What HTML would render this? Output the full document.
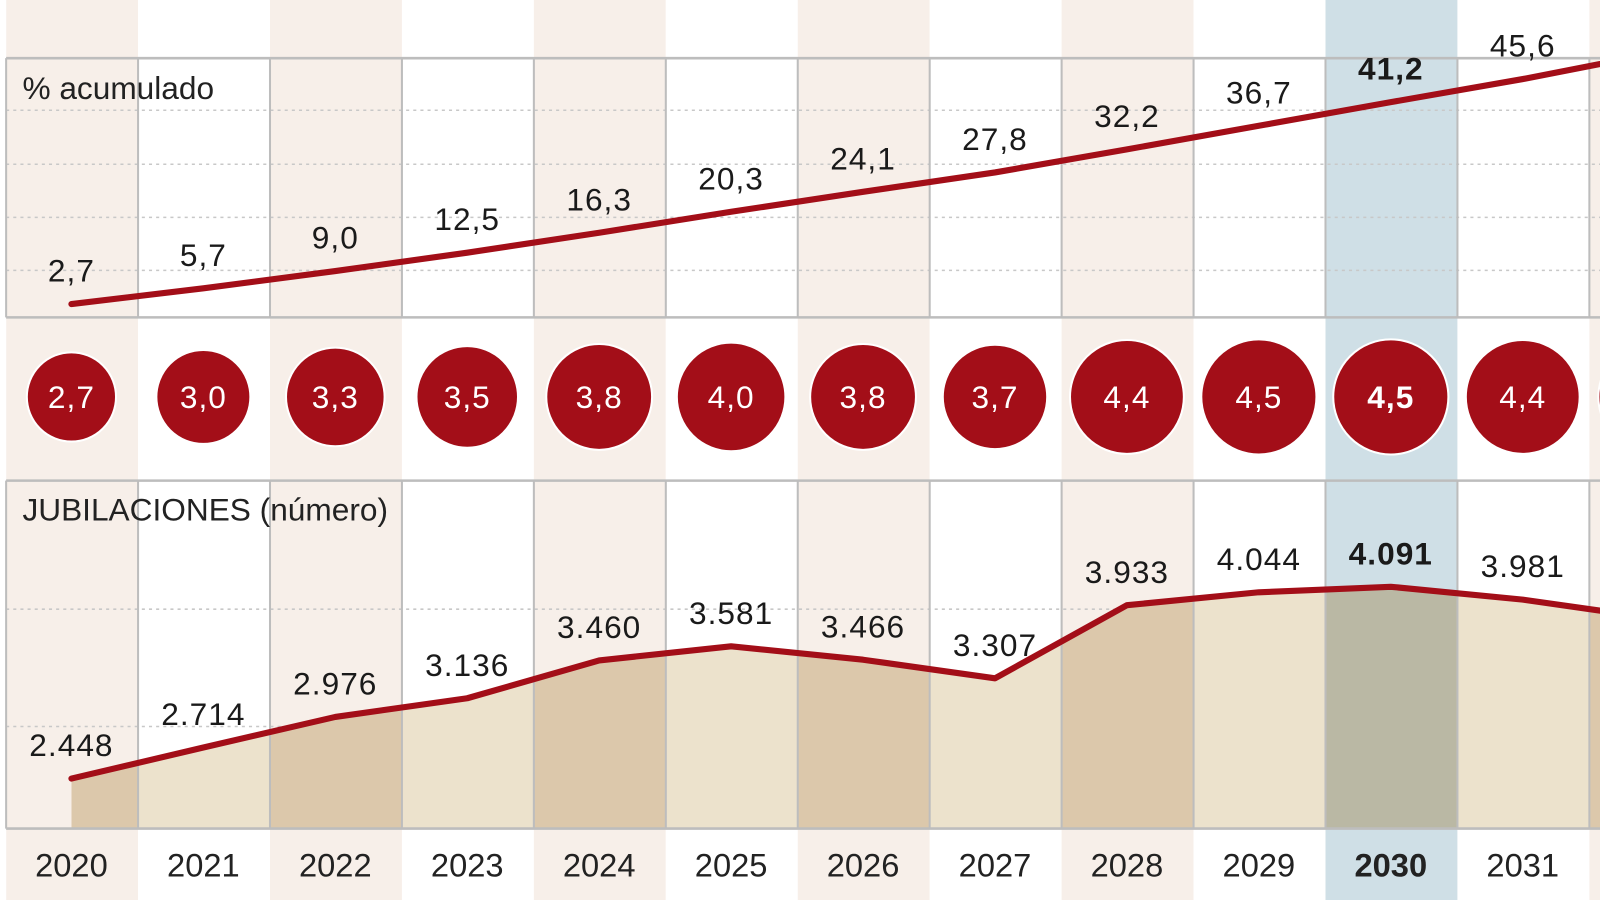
<!DOCTYPE html>
<html><head><meta charset="utf-8">
<style>
html,body{margin:0;padding:0;background:#fff;width:1600px;height:900px;overflow:hidden}
svg{display:block;font-family:"Liberation Sans",sans-serif}
</style></head>
<body>
<svg id="chart" width="1600" height="900" viewBox="0 0 1600 900"><g id="root" transform="scale(1.0204)"></g></svg>
<script>
const years = [2020,2021,2022,2023,2024,2025,2026,2027,2028,2029,2030,2031,2032];
const cumulative = [2.7,5.7,9.0,12.5,16.3,20.3,24.1,27.8,32.2,36.7,41.2,45.6,50.5];
const cumLabels = ["2,7","5,7","9,0","12,5","16,3","20,3","24,1","27,8","32,2","36,7","41,2","45,6",""];
const annual = [2.7,3.0,3.3,3.5,3.8,4.0,3.8,3.7,4.4,4.5,4.5,4.4,4.3];
const annualLabels = ["2,7","3,0","3,3","3,5","3,8","4,0","3,8","3,7","4,4","4,5","4,5","4,4",""];
const retirements = [2448,2714,2976,3136,3460,3581,3466,3307,3933,4044,4091,3981,3820];
const retLabels = ["2.448","2.714","2.976","3.136","3.460","3.581","3.466","3.307","3.933","4.044","4.091","3.981",""];
const highlightYear = 2030;

const NS="http://www.w3.org/2000/svg";
const svg=document.getElementById('root');
function mk(tag,attrs,parent){const e=document.createElementNS(NS,tag);for(const k in attrs)e.setAttribute(k,attrs[k]);(parent||svg).appendChild(e);return e;}

const colW=129.3, x0=6;
const xC=i=>70+i*colW;
const colL=i=>x0+i*colW;
const yTop=v=>298-(v-2.7)*5.14;
const yBot=v=>763-(v-2448)*0.1144;
const rBub=v=>26.6*Math.sqrt(v);
const RED="#a30e18";

years.forEach((yr,i)=>{
  const even=i%2===0, hl=yr===highlightYear;
  const c=mk('rect',{x:colL(i),y:0,width:colW,height:882,fill:hl?'#cfdfe6':(even?'#f7efe9':'#ffffff')});
  
  
});
mk('rect',{x:0,y:0,width:6,height:900,fill:'#fff'});
mk('rect',{x:0,y:882,width:1600,height:30,fill:'#fff'});

[108,161,213,265].forEach(y=>{const g=mk('line',{x1:6,x2:1600,y1:y,y2:y,stroke:'#c8c8c8','stroke-width':1.5,'stroke-dasharray':'3,4'});});
[597,712].forEach(y=>{const g=mk('line',{x1:6,x2:1600,y1:y,y2:y,stroke:'#c8c8c8','stroke-width':1.5,'stroke-dasharray':'3,4'});});

const areaG=mk('g',{});


const clip=mk('clipPath',{id:'areaClip'});
let d='M'+xC(0)+' 812 ';
retirements.forEach((v,i)=>{d+='L'+xC(i)+' '+yBot(v)+' ';});
d+='L'+xC(retirements.length-1)+' 812 Z';
mk('path',{d:d},clip);
years.forEach((yr,i)=>{
  const even=i%2===0, hl=yr===highlightYear;
  const r=mk('rect',{x:colL(i),y:470,width:colW,height:342,fill:hl?'#bab8a4':(even?'#dcc8ab':'#ece2cc'),'clip-path':'url(#areaClip)'},areaG);
  
  
});

for(let i=0;i<=13;i++){
  const x=colL(i);
  mk('line',{x1:x,x2:x,y1:57,y2:311,stroke:'#bdbdbd','stroke-width':2});
  mk('line',{x1:x,x2:x,y1:471,y2:812,stroke:'#bdbdbd','stroke-width':2});
}
[57,311,471,812].forEach(y=>mk('line',{x1:6,x2:1600,y1:y,y2:y,stroke:'#bdbdbd','stroke-width':2.5}));

let t=mk('text',{x:22,y:97,'font-size':31,fill:'#222'});t.textContent='% acumulado';

t=mk('text',{x:22,y:510,'font-size':31,fill:'#222'});t.textContent='JUBILACIONES (número)';


const tl=mk('polyline',{points:cumulative.map((v,i)=>xC(i)+','+yTop(v)).join(' '),fill:'none',stroke:RED,'stroke-width':6,'stroke-linecap':'round','stroke-linejoin':'round'});

cumLabels.forEach((l,i)=>{if(!l)return;const b=years[i]===highlightYear;
  const e=mk('text',{x:xC(i),y:yTop(cumulative[i])-22,'text-anchor':'middle','font-size':31,'font-weight':b?'bold':'normal',fill:'#1a1a1a','letter-spacing':1});
  e.textContent=l;});

annual.forEach((v,i)=>{
  const c=mk('circle',{cx:xC(i),cy:389,r:rBub(v),fill:RED,stroke:'#fff','stroke-width':2});
  
  if(annualLabels[i]){const b=years[i]===highlightYear;
  const e=mk('text',{x:xC(i),y:400,'text-anchor':'middle','font-size':31,'font-weight':b?'bold':'normal',fill:'#fff','letter-spacing':1});
  e.textContent=annualLabels[i];}
});

const bl=mk('polyline',{points:retirements.map((v,i)=>xC(i)+','+yBot(v)).join(' '),fill:'none',stroke:RED,'stroke-width':6,'stroke-linecap':'round','stroke-linejoin':'round'});

retLabels.forEach((l,i)=>{if(!l)return;const b=years[i]===highlightYear;
  const e=mk('text',{x:xC(i),y:yBot(retirements[i])-22,'text-anchor':'middle','font-size':31,'font-weight':b?'bold':'normal',fill:'#1a1a1a','letter-spacing':1});
  e.textContent=l;});

years.forEach((yr,i)=>{const b=yr===highlightYear;
  const e=mk('text',{x:xC(i),y:859,'text-anchor':'middle','font-size':32,'font-weight':b?'bold':'normal',fill:'#222'});
  e.textContent=yr;});
</script>
</body></html>
